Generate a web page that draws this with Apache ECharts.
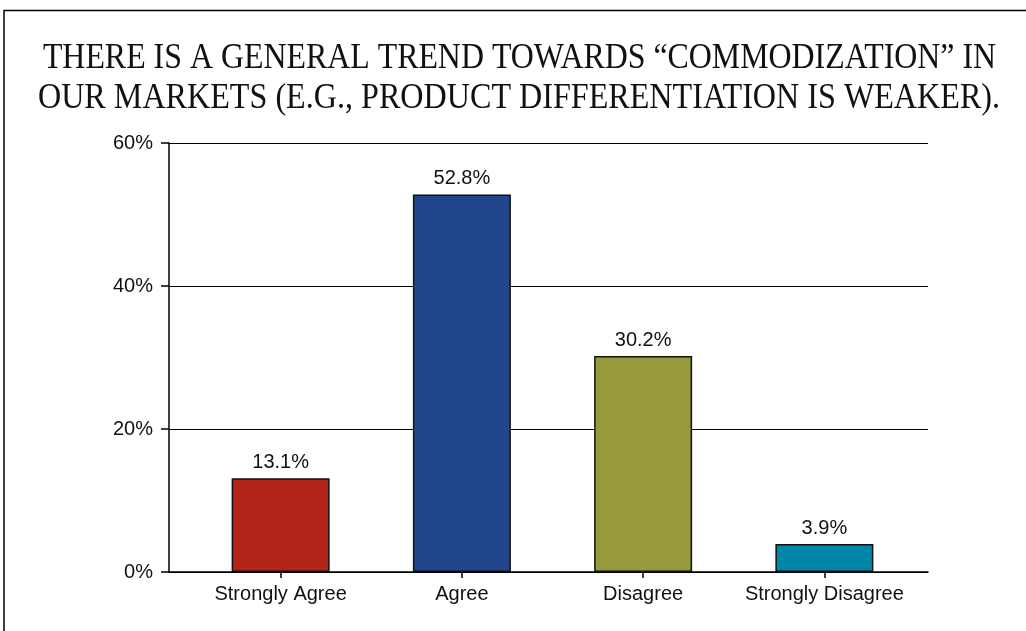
<!DOCTYPE html>
<html>
<head>
<meta charset="utf-8">
<script src="https://cdn.jsdelivr.net/npm/echarts@6/dist/echarts.min.js"></script>
<style>
  html, body { margin: 0; padding: 0; background: #fff; }
  #chart { width: 1026px; height: 631px; }
</style>
</head>
<body>
<div id="chart"></div>
<script>
// data
const titleLines = ['THERE IS A GENERAL TREND TOWARDS \u201CCOMMODIZATION\u201D IN',
                    'OUR MARKETS (E.G., PRODUCT DIFFERENTIATION IS WEAKER).'];
const categories = ['Strongly Agree', 'Agree', 'Disagree', 'Strongly Disagree'];
const shares = [13.1, 52.8, 30.2, 3.9];
const barColors = ['#B2231A', '#21468C', '#969A3A', '#0086A8'];
const yTicks = [0, 20, 40, 60];

const sans = '"Liberation Sans", Arial, sans-serif';
const serif = '35px "Liberation Serif", "Times New Roman", serif';

let myChart = echarts.init(document.getElementById('chart'), null, { renderer: 'canvas' });
myChart.setOption({
  animation: false,
  backgroundColor: '#fff',
  graphic: [
    // frame (top + left edge)
    { type: 'polyline', shape: { points: [[4, 631], [4, 10.5], [1026, 10.5]] },
      style: { stroke: '#000', lineWidth: 1.5, fill: null } },
    { type: 'text', x: 519.5, y: 58.5, scaleX: 0.911,
      style: { text: titleLines[0], font: serif, fill: '#111',
               textAlign: 'center', textVerticalAlign: 'middle' } },
    { type: 'text', x: 519, y: 98.5, scaleX: 0.918,
      style: { text: titleLines[1], font: serif, fill: '#111',
               textAlign: 'center', textVerticalAlign: 'middle' } }
  ],
  grid: [
    { left: 169, right: 98, top: 143, bottom: 59 },
    { left: 190, right: 111, top: 143, bottom: 59 }
  ],
  xAxis: [
    { type: 'category', gridIndex: 0, data: categories,
      axisLine: { show: true, lineStyle: { color: '#000', width: 1.5 } },
      axisTick: { show: false }, axisLabel: { show: false } },
    { type: 'category', gridIndex: 1, data: categories,
      axisLine: { show: false },
      axisTick: { show: true, alignWithLabel: true, length: 6, lineStyle: { color: '#000', width: 1.5 } },
      axisLabel: { color: '#111', fontFamily: sans, fontSize: 20, margin: 12, interval: 0 } }
  ],
  yAxis: [
    { type: 'value', gridIndex: 0, min: yTicks[0], max: yTicks[yTicks.length - 1], interval: 20,
      axisLine: { show: true, lineStyle: { color: '#000', width: 1.5 } },
      axisTick: { show: true, length: 8, lineStyle: { color: '#000', width: 1.5 } },
      splitLine: { show: true, lineStyle: { color: '#000', width: 1.2 } },
      axisLabel: { color: '#111', fontFamily: sans, fontSize: 20, margin: 16,
                   formatter: v => v + '%' } },
    { type: 'value', gridIndex: 1, min: yTicks[0], max: yTicks[yTicks.length - 1], interval: 20,
      show: false, splitLine: { show: false } }
  ],
  series: [
    {
      type: 'bar', xAxisIndex: 1, yAxisIndex: 1, barWidth: 98,
      data: shares.map((v, i) => ({
        value: v,
        itemStyle: { color: barColors[i], borderColor: '#111', borderWidth: 1.5 }
      })),
      label: { show: true, position: 'top', distance: 6, color: '#111',
               fontFamily: sans, fontSize: 20, formatter: p => p.value.toFixed(1) + '%' }
    }
  ]
});
</script>
</body>
</html>
